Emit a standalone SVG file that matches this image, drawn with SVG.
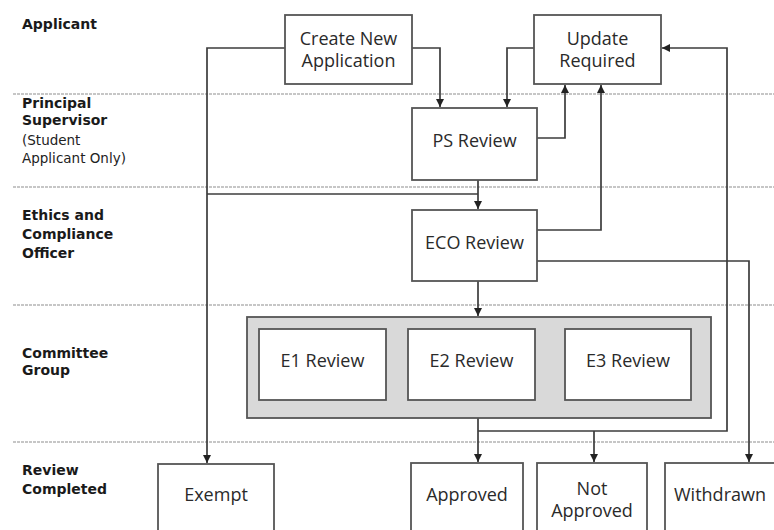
<svg xmlns="http://www.w3.org/2000/svg" width="774" height="530" viewBox="0 0 774 530">
<defs>
<marker id="arr" viewBox="0 0 10 10" refX="10" refY="5" markerWidth="8" markerHeight="8" markerUnits="userSpaceOnUse" orient="auto">
<path d="M0,0 L10,5 L0,10 z" fill="#222"/>
</marker>
<style>
.lane{stroke:#b4b4b4;stroke-width:1.6;stroke-dasharray:3 1;fill:none}
.lbl{font-family:"DejaVu Sans",Verdana,sans-serif;font-weight:bold;font-size:14px;fill:#1a1a1a}
.sub{font-family:"DejaVu Sans",Verdana,sans-serif;font-size:13.5px;fill:#222}
.box{fill:#fff;stroke:#555;stroke-width:1.8}
.grp{fill:#d9d9d9;stroke:#555;stroke-width:1.8}
.t{font-family:"Open Sans",Lato,sans-serif;font-size:18px;fill:#2a2a2a;text-anchor:middle}
.c{fill:none;stroke:#3c3c3c;stroke-width:1.7}
</style>
</defs>
<rect width="774" height="530" fill="#fff"/>
<g id="lanes">
<line class="lane" x1="13" y1="94" x2="774" y2="94"/>
<line class="lane" x1="13" y1="187" x2="774" y2="187"/>
<line class="lane" x1="13" y1="305" x2="774" y2="305"/>
<line class="lane" x1="13" y1="442" x2="774" y2="442"/>
</g>
<g id="lane-labels">
<text class="lbl" x="22" y="29">Applicant</text>
<text class="lbl" x="22" y="108">Principal</text>
<text class="lbl" x="22" y="125">Supervisor</text>
<text class="sub" x="22" y="145">(Student</text>
<text class="sub" x="22" y="163">Applicant Only)</text>
<text class="lbl" x="22" y="220">Ethics and</text>
<text class="lbl" x="22" y="239">Compliance</text>
<text class="lbl" x="22" y="258">Officer</text>
<text class="lbl" x="22" y="358">Committee</text>
<text class="lbl" x="22" y="375">Group</text>
<text class="lbl" x="22" y="475">Review</text>
<text class="lbl" x="22" y="494">Completed</text>
</g>
<g id="connectors">
<path class="c" d="M285,48 H207 V463" marker-end="url(#arr)"/>
<path class="c" d="M478,194 H207"/>
<path class="c" d="M412,48 H440 V107" marker-end="url(#arr)"/>
<path class="c" d="M534,48 H507 V107" marker-end="url(#arr)"/>
<path class="c" d="M537,138 H565 V85" marker-end="url(#arr)"/>
<path class="c" d="M537,230 H601 V85" marker-end="url(#arr)"/>
<path class="c" d="M478,180 V209" marker-end="url(#arr)"/>
<path class="c" d="M478,281 V316" marker-end="url(#arr)"/>
<path class="c" d="M537,261 H749 V462" marker-end="url(#arr)"/>
<path class="c" d="M478,418 V462" marker-end="url(#arr)"/>
<path class="c" d="M478,431 H727 V48 H662" marker-end="url(#arr)"/>
<path class="c" d="M594,431 V462" marker-end="url(#arr)"/>
</g>
<g id="create-new-application">
<rect class="box" x="285" y="15" width="127" height="69"/>
<text class="t" x="348.5" y="45">Create New</text>
<text class="t" x="348.5" y="67">Application</text>
</g>
<g id="update-required">
<rect class="box" x="534" y="15" width="127" height="69"/>
<text class="t" x="597.5" y="45">Update</text>
<text class="t" x="597.5" y="67">Required</text>
</g>
<g id="ps-review">
<rect class="box" x="412" y="108" width="125" height="72"/>
<text class="t" x="474.5" y="147">PS Review</text>
</g>
<g id="eco-review">
<rect class="box" x="412" y="210" width="125" height="71"/>
<text class="t" x="474.5" y="249">ECO Review</text>
</g>
<g id="committee-group">
<rect class="grp" x="247" y="317" width="464" height="101"/>
<g id="e1-review">
<rect class="box" x="259" y="329" width="127" height="71"/>
<text class="t" x="322.5" y="367">E1 Review</text>
</g>
<g id="e2-review">
<rect class="box" x="408" y="329" width="127" height="71"/>
<text class="t" x="471.5" y="367">E2 Review</text>
</g>
<g id="e3-review">
<rect class="box" x="565" y="329" width="126" height="71"/>
<text class="t" x="628" y="367">E3 Review</text>
</g>
</g>
<g id="exempt">
<rect class="box" x="158" y="464" width="116" height="80"/>
<text class="t" x="216" y="501">Exempt</text>
</g>
<g id="approved">
<rect class="box" x="411" y="463" width="112" height="80"/>
<text class="t" x="467" y="501">Approved</text>
</g>
<g id="not-approved">
<rect class="box" x="537" y="463" width="110" height="80"/>
<text class="t" x="592" y="495">Not</text>
<text class="t" x="592" y="517">Approved</text>
</g>
<g id="withdrawn">
<rect class="box" x="665" y="463" width="120" height="80"/>
<text class="t" x="720" y="501">Withdrawn</text>
</g>
</svg>
